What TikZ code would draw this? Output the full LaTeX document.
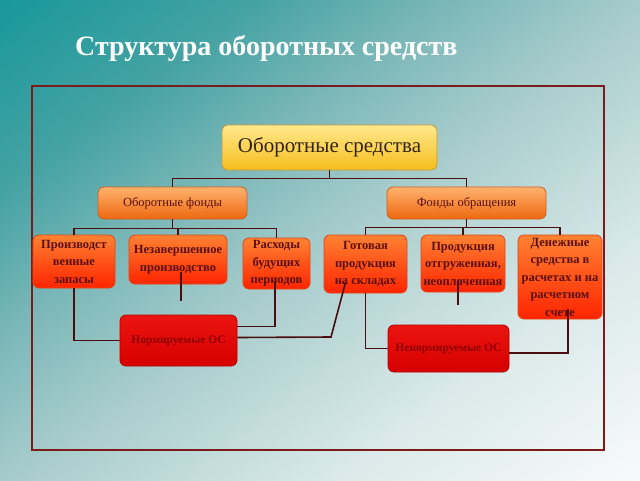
\documentclass[tikz,border=0pt]{standalone}
\usepackage{fontspec}
\setmainfont{Liberation Serif}
\usetikzlibrary{calc}
\definecolor{bg0}{HTML}{18989A}
\definecolor{bg1}{HTML}{45A2A3}
\definecolor{bg2}{HTML}{78B6B7}
\definecolor{bg3}{HTML}{A6CBCB}
\definecolor{bg4}{HTML}{DAE9E9}
\definecolor{bg5}{HTML}{F8FAFA}
\definecolor{framec}{HTML}{7A1C1C}
\definecolor{linec}{HTML}{4A0E0E}
\definecolor{txtc}{HTML}{5A1010}
\definecolor{ytop}{HTML}{FFE88C}
\definecolor{ybot}{HTML}{F6BE1E}
\definecolor{ydraw}{HTML}{C8963C}
\definecolor{ytext}{HTML}{32230F}
\definecolor{otop}{HTML}{FFB26E}
\definecolor{obot}{HTML}{EE6810}
\definecolor{odraw}{HTML}{CD5F1E}
\definecolor{ltop}{HTML}{FF8232}
\definecolor{lbot}{HTML}{FF2400}
\definecolor{ldraw}{HTML}{E14614}
\definecolor{rtop}{HTML}{EC1410}
\definecolor{rbot}{HTML}{D60000}
\definecolor{rdraw}{HTML}{B40000}
\definecolor{rtext}{HTML}{8C0000}
\pgfdeclarehorizontalshading{bgshade}{100bp}{color(0bp)=(bg0); color(15bp)=(bg0); color(29bp)=(bg1); color(39bp)=(bg2); color(50bp)=(bg3); color(68bp)=(bg4); color(85bp)=(bg5); color(100bp)=(bg5)}
\tikzset{
  box/.style={rounded corners=6pt, line width=0.8pt, align=center, inner sep=1pt},
  topbox/.style={box, top color=ytop, bottom color=ybot, draw=ydraw, text=ytext, font=\fontsize{21}{25}\selectfont},
  midbox/.style={box, top color=otop, bottom color=obot, draw=odraw, text=txtc, font=\fontsize{12.5}{15}\selectfont},
  leafbox/.style={box, top color=ltop, bottom color=lbot, draw=ldraw, text=txtc, font=\bfseries\fontsize{12.5}{17.5}\selectfont},
  osbox/.style={box, top color=rtop, bottom color=rbot, draw=rdraw, text=rtext, font=\bfseries\fontsize{11.5}{14}\selectfont},
  conn/.style={draw=linec, line width=1.6pt},
}
\begin{document}
\begin{tikzpicture}[x=1pt,y=-1pt]
\shade[shading=bgshade, shading angle=-53] (0,0) rectangle (640,480);
\useasboundingbox (0,0) rectangle (640,480);
\node[anchor=base west, inner sep=0pt, text=white, font=\bfseries\fontsize{28}{32}\selectfont] (title) at (75,55) {Структура оборотных средств};
\draw[framec, line width=1.8pt] (32,86) rectangle (604,450);

\node[topbox, minimum width=215pt, minimum height=45pt] (top) at (329.5,147.5) {Оборотные средства};
\node[midbox, minimum width=149pt, minimum height=32pt] (OF) at (172.5,203) {Оборотные фонды};
\node[midbox, minimum width=159pt, minimum height=32pt] (FO) at (466.5,203) {Фонды обращения};

\node[leafbox, minimum width=82pt, minimum height=53pt] (PZ) at (74,261.5) {Производст\\венные\\запасы};
\node[leafbox, minimum width=98pt, minimum height=49pt] (NP) at (178,259.5) {Незавершенное\\производство};
\node[leafbox, minimum width=67pt, minimum height=51pt] (RB) at (276.5,263.5) {Расходы\\будущих\\периодов};
\node[leafbox, minimum width=83pt, minimum height=58pt] (GP) at (365.5,264) {Готовая\\продукция\\на складах};
\node[leafbox, minimum width=84pt, minimum height=57pt] (PO) at (463,263.5) {Продукция\\отгруженная,\\неоплаченная};
\node[leafbox, minimum width=84pt, minimum height=84pt] (DS) at (560,277) {Денежные\\средства в\\расчетах и на\\расчетном\\счете};

\node[osbox, minimum width=117pt, minimum height=51pt] (NOS) at (178.5,340.5) {Нормируемые ОС};
\node[osbox, minimum width=121pt, minimum height=47pt] (NNOS) at (448.5,348.5) {Ненормируемые ОС};

\coordinate (npe) at (181,301);
\coordinate (poe) at (458,305);
\coordinate (bend) at (331,337);

\draw[conn] (top.south) -- ++(0,8) -| (OF.north);
\draw[conn] (top.south) -- ++(0,8) -| (FO.north);
\draw[conn] (OF.south) -- ++(0,9) -| (PZ.north);
\draw[conn] (OF.south) -- ++(0,9) -| (NP.north);
\draw[conn] (OF.south) -- ++(0,9) -| (RB.north);
\draw[conn] (FO.south) -- ++(0,8) -| (GP.north);
\draw[conn] (FO.south) -- ++(0,8) -| (PO.north);
\draw[conn] (FO.south) -- ++(0,8) -| (DS.north);

\draw[conn] (PZ.south) |- (NOS.west);
\draw[conn] ([xshift=3pt,yshift=12pt]NP.south) -- (npe);
\draw[conn] ([xshift=-1.5pt,yshift=8pt]RB.south) |- ([yshift=14pt]NOS.east);
\draw[conn] ([yshift=3pt]NOS.east) -- (bend) -- ([xshift=-20pt,yshift=11pt]GP.south);
\draw[conn] (GP.south) |- (NNOS.west);
\draw[conn] ([xshift=-5pt,yshift=12pt]PO.south) -- (poe);
\draw[conn] ([xshift=8pt,yshift=10pt]DS.south) |- ([yshift=-4.5pt]NNOS.east);
\end{tikzpicture}
\end{document}
